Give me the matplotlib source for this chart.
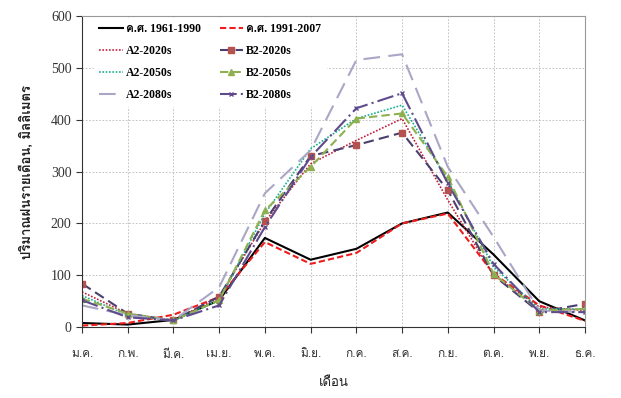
import numpy as np
import matplotlib
matplotlib.use("Agg")
import matplotlib.pyplot as plt
from matplotlib import font_manager
from matplotlib.ft2font import FT2Font

months = ["ม.ค.", "ก.พ.", "มี.ค.", "เม.ย.", "พ.ค.", "มิ.ย.",
          "ก.ค.", "ส.ค.", "ก.ย.", "ต.ค.", "พ.ย.", "ธ.ค."]

obs_1961_1990 = [8, 5, 14, 52, 172, 130, 151, 200, 221, 140, 50, 13]
obs_1991_2007 = [3, 8, 24, 58, 164, 122, 143, 200, 219, 103, 42, 12]
a2_2020s = [68, 26, 13, 58, 203, 315, 360, 402, 245, 100, 39, 32]
b2_2020s = [84, 26, 13, 59, 205, 330, 351, 375, 264, 100, 29, 45]
a2_2050s = [61, 23, 12, 52, 219, 344, 402, 428, 283, 116, 35, 35]
b2_2050s = [55, 26, 13, 52, 225, 309, 402, 412, 290, 103, 32, 35]
a2_2080s = [42, 23, 13, 77, 258, 341, 515, 526, 309, 174, 32, 29]
b2_2080s = [52, 19, 13, 42, 193, 328, 422, 451, 277, 122, 29, 29]


# find an installed font that covers Thai
def thai_font():
    for f in font_manager.fontManager.ttflist:
        try:
            if 0x0E01 in FT2Font(f.fname).get_charmap():
                return f.name
        except Exception:
            pass
    return None

thai = thai_font()
sans = [thai, "DejaVu Sans"] if thai else ["DejaVu Sans"]
serif = ["Liberation Serif", thai] if thai else ["Liberation Serif"]

fig = plt.figure(figsize=(6.21, 3.98), dpi=100)
ax = fig.add_axes([0.132, 0.178, 0.810, 0.782])

x = np.arange(len(months))

l1, = ax.plot(x, obs_1961_1990, color="black", lw=1.5, label="ค.ศ. 1961-1990")
l2, = ax.plot(x, obs_1991_2007, color="#ee1c1c", lw=1.5, ls=(0, (3, 1.5)), label="ค.ศ. 1991-2007")
l3, = ax.plot(x, a2_2020s, color="#c0203a", lw=1.2, ls=(0, (1, 1)), label="A2-2020s")
l4, = ax.plot(x, b2_2020s, color="#4a3f6e", lw=1.5, ls=(0, (5, 2.5)), marker="s", ms=4.5,
              mfc="#b5524f", mec="#b5524f", label="B2-2020s")
l5, = ax.plot(x, a2_2050s, color="#18b090", lw=1.2, ls=(0, (1, 1)), label="A2-2050s")
l6, = ax.plot(x, b2_2050s, color="#8fb050", lw=1.5, ls=(0, (4, 2)), marker="^", ms=4,
              mfc="#8fb050", mec="#8fb050", label="B2-2050s")
l7, = ax.plot(x, a2_2080s, color="#a9a6c6", lw=1.5, ls=(0, (8, 4)), label="A2-2080s")
l8, = ax.plot(x, b2_2080s, color="#5f4b8b", lw=1.5, ls=(0, (8, 2, 1, 2)), marker="x", ms=3.5,
              mfc="#5f4b8b", mec="#5f4b8b", label="B2-2080s")

ax.set_xlim(0, 11)
ax.set_ylim(0, 600)
ax.set_yticks(range(0, 601, 100))
ax.set_xticks(x)
ax.set_xticklabels(months, family=sans, fontsize=8.5, color="#333333")
for lab in ax.get_yticklabels():
    lab.set_family(serif)
    lab.set_fontsize(10)
    lab.set_color("#333333")
ax.tick_params(axis="x", direction="out", length=4, pad=12, color="#333333")
ax.tick_params(axis="y", direction="out", length=4, color="#333333")

ax.grid(True, color="#b8b8b8", ls=(0, (2, 2)), lw=0.6)
ax.set_axisbelow(True)
for side in ["top", "right"]:
    ax.spines[side].set_color("#999999")
for side in ["left", "bottom"]:
    ax.spines[side].set_color("#333333")

ax.set_xlabel("เดือน", family=sans, fontsize=9.5, labelpad=12, color="#222222")
ax.set_ylabel("ปริมาณฝนรายเดือน, มิลลิเมตร", family=sans, fontsize=9.5,
              fontweight="bold", labelpad=12, color="#222222")

# row-major order like the original: column 1 holds the left entries
handles = [l1, l3, l5, l7, l2, l4, l6, l8]
leg = ax.legend(handles=handles, loc="upper left", bbox_to_anchor=(0.02, 1.0),
                ncol=2, frameon=True,
                fancybox=False, edgecolor="white", facecolor="white",
                framealpha=1,
                prop={"family": serif, "weight": "bold", "size": 8.5},
                handlelength=2.0, handletextpad=0.25, columnspacing=1.6,
                labelspacing=0.85, borderaxespad=0.2)

fig.savefig("out.png", dpi=100)
